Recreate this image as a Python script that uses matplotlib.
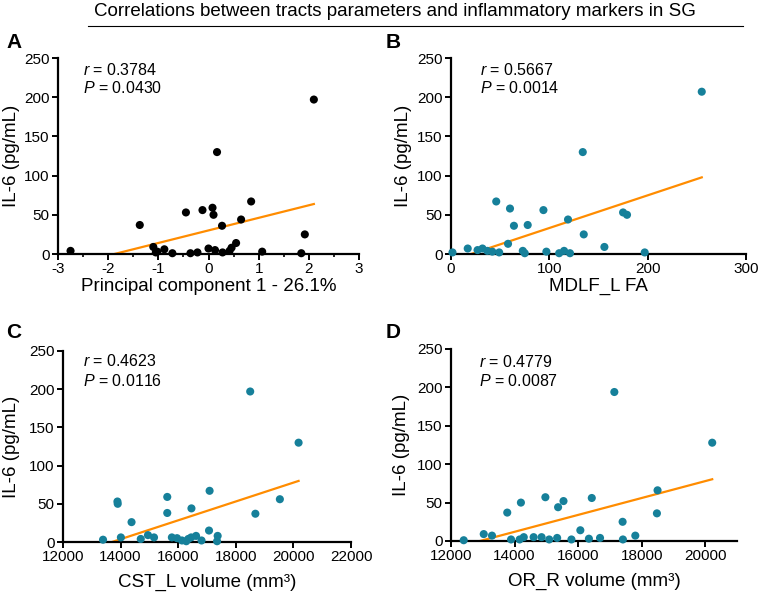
import matplotlib
matplotlib.use("Agg")
import matplotlib.pyplot as plt
import numpy as np
from matplotlib.lines import Line2D
from matplotlib.ticker import MultipleLocator

plt.rcParams['font.family'] = ['Liberation Sans', 'DejaVu Sans']
plt.rcParams['mathtext.fontset'] = 'custom'
plt.rcParams['mathtext.rm'] = 'Liberation Sans'
plt.rcParams['mathtext.it'] = 'Liberation Sans:italic'
plt.rcParams['axes.unicode_minus'] = False

# Panel A: principal component 1 vs IL-6
pc1_x = [-2.75, -1.37, -1.10, -1.05, -1.02, -0.88, -0.72, -0.45, -0.36, -0.22,
         -0.12, 0.0, 0.08, 0.10, 0.13, 0.17, 0.27, 0.28, 0.42, 0.46, 0.55,
         0.65, 0.85, 1.07, 1.85, 1.92, 2.10]
pc1_y = [4, 37, 9, 2, 3, 6, 1, 53, 1, 2,
         56, 7, 59, 50, 5, 130, 36, 2, 4, 8, 14,
         44, 67, 3, 1, 25, 197]

# Panel B: MDLF_L FA vs IL-6
mdlf_x = [1.5, 17, 27, 32, 37, 42, 46, 49, 58, 60, 64, 73, 75, 78, 94, 97,
          110, 115, 119, 121, 134, 135, 156, 175, 179, 197, 255]
mdlf_y = [2, 7, 5, 7, 4, 3, 67, 2, 13, 58, 36, 4, 1, 37, 56, 3,
          1, 4, 44, 1, 130, 25, 9, 53, 50, 2, 207]

# Panel C: CST_L volume vs IL-6
cst_x = [13390, 13890, 13900, 14010, 14380, 14700, 14950, 15160, 15620, 15620,
         15780, 15960, 16130, 16280, 16350, 16450, 16460, 16620, 16810, 17070,
         17090, 17350, 17370, 18500, 18680, 19530, 20180]
cst_y = [3, 53, 50, 6, 26, 4, 9, 6, 59, 38,
         6, 5, 2, 1, 4, 6, 44, 8, 2, 15,
         67, 1, 8, 197, 37, 56, 130]

# Panel D: OR_R volume vs IL-6
orr_x = [12400, 13030, 13290, 13770, 13890, 14160, 14200, 14290, 14600, 14850,
         14970, 15090, 15340, 15370, 15540, 15790, 16070, 16340, 16430, 16690,
         17140, 17400, 17410, 17800, 18480, 18500, 20220]
orr_y = [1, 9, 7, 37, 2, 2, 50, 5, 5, 5,
         57, 2, 4, 44, 52, 2, 14, 3, 56, 4,
         194, 25, 2, 7, 36, 66, 128]

stats = [("0.3784", "0.0430"), ("0.5667", "0.0014"),
         ("0.4623", "0.0116"), ("0.4779", "0.0087")]
x_labels = ["Principal component 1 - 26.1%", "MDLF_L FA",
            "CST_L volume (mm³)", "OR_R volume (mm³)"]
letters = ["A", "B", "C", "D"]

TEAL = "#16809a"
ORANGE = "#ff8c00"
W, H = 760, 599

fig = plt.figure(figsize=(7.6, 5.99), dpi=100)


def px_axes(left, right, top, bottom):
    return fig.add_axes([left / W, 1 - bottom / H, (right - left) / W, (bottom - top) / H])


panels = [
    dict(box=(58, 359, 58, 254), x=pc1_x, y=pc1_y, color="black",
         xlim=(-3, 3), xmajor=1, xminor=0.5, text=(0.083, 0.94, 0.848),
         ylab=-0.126, xpad=1, letter=(14, 43)),
    dict(box=(451, 746, 58, 254), x=mdlf_x, y=mdlf_y, color=TEAL,
         xlim=(0, 300), xmajor=100, xminor=None, text=(0.098, 0.94, 0.848),
         ylab=-0.132, xpad=1, letter=(393, 43)),
    dict(box=(63, 351, 351, 542), x=cst_x, y=cst_y, color=TEAL,
         xlim=(12000, 22000), xmajor=2000, xminor=None, text=(0.07, 0.948, 0.843),
         ylab=-0.149, xpad=7, letter=(14, 333)),
    dict(box=(451, 737, 349, 541), x=orr_x, y=orr_y, color=TEAL,
         xlim=(12000, 21000), xmajor=2000, xminor=None, text=(0.098, 0.934, 0.833),
         ylab=-0.143, xpad=7, letter=(393, 333)),
]

for i, p in enumerate(panels):
    ax = px_axes(*p["box"])
    x = np.array(p["x"], dtype=float)
    y = np.array(p["y"], dtype=float)

    # linear regression line, clipped at y = 0 by the axes
    slope, intercept = np.polyfit(x, y, 1)
    xs = np.array([x.min(), x.max()])
    ax.plot(xs, slope * xs + intercept, color=ORANGE, lw=1.6, zorder=2)

    ax.scatter(x, y, s=34, color=p["color"], edgecolors="none", zorder=3, clip_on=False)

    ax.set_xlim(*p["xlim"])
    ax.set_ylim(0, 250)
    ax.xaxis.set_major_locator(MultipleLocator(p["xmajor"]))
    if p["xminor"]:
        ax.xaxis.set_minor_locator(MultipleLocator(p["xminor"]))
    ax.yaxis.set_major_locator(MultipleLocator(50))

    for side in ["top", "right"]:
        ax.spines[side].set_visible(False)
    for side in ["left", "bottom"]:
        ax.spines[side].set_linewidth(1.6)
    ax.tick_params(which="major", direction="out", length=4, width=1.4,
                   labelsize=11, pad=2)
    ax.tick_params(which="minor", direction="out", length=2.5, width=1.2)

    ax.set_xlabel(x_labels[i], fontsize=13.5, labelpad=p["xpad"])
    ax.set_ylabel("IL-6 (pg/mL)", fontsize=13.5)
    ax.yaxis.set_label_coords(p["ylab"], 0.5)

    r_val, p_val = stats[i]
    tx, ty1, ty2 = p["text"]
    ax.text(tx, ty1, "$r$ = " + r_val, transform=ax.transAxes,
            fontsize=11.5, va="center", ha="left")
    ax.text(tx, ty2, "$P$ = " + p_val, transform=ax.transAxes,
            fontsize=11.5, va="center", ha="left")

    lx, ly = p["letter"]
    fig.text(lx / W, 1 - ly / H, letters[i], fontsize=15, fontweight="bold",
             ha="center", va="center")

fig.text(395 / W, 1 - 12 / H,
         "Correlations between tracts parameters and inflammatory markers in SG",
         ha="center", va="center", fontsize=13.5)
fig.add_artist(Line2D([88 / W, 743 / W], [1 - 26 / H, 1 - 26 / H],
                      color="black", lw=0.8))

fig.savefig("out.png", dpi=100)
